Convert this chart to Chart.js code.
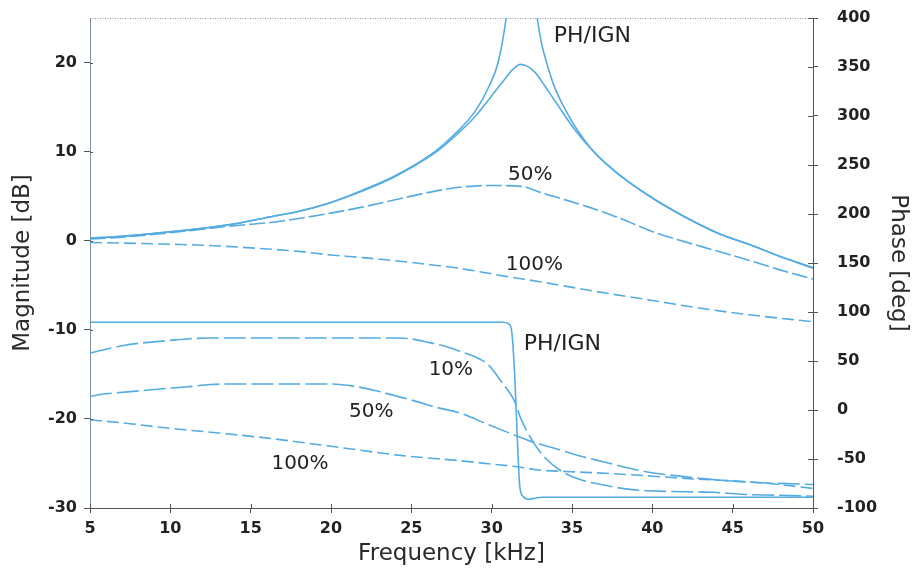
<!DOCTYPE html>
<html>
<head>
<meta charset="utf-8">
<script src="https://cdn.jsdelivr.net/npm/chart.js@4.4.1/dist/chart.umd.min.js"></script>
<style>
  html, body { margin: 0; padding: 0; background: #ffffff; }
  #wrap { width: 915px; height: 572px; }
</style>
</head>
<body>
<div id="wrap"><canvas id="c" width="915" height="572"></canvas></div>
<script>
// ---- tick labels ----
const freqTicks = [5, 10, 15, 20, 25, 30, 35, 40, 45, 50];
const magTicks = [-30, -20, -10, 0, 10, 20];
const phaseTicks = [-100, -50, 0, 50, 100, 150, 200, 250, 300, 350, 400];

// ---- magnitude [dB] (left axis) ----
const magPhIgnF  = [5, 7, 10, 12, 14, 16, 18, 20, 22, 24, 26, 27, 28, 29, 29.8, 30.4, 30.9, 31.3, 31.7, 32.1, 32.5, 32.8, 33.1, 33.5, 33.9, 34.5, 35.2, 36.4, 38, 40, 42, 44, 46, 48, 50];
const magPhIgnDb = [0.3, 0.5, 1.0, 1.4, 1.9, 2.6, 3.3, 4.3, 5.7, 7.3, 9.4, 10.8, 12.5, 14.6, 17.2, 20.0, 25.0, 32, 40, 38, 31, 25.5, 22.2, 19.5, 17.3, 15.0, 12.8, 9.9, 7.3, 4.8, 2.7, 0.9, -0.4, -1.8, -3.0];

const mag10F  = [5, 7, 10, 12, 14, 16, 18, 20, 22, 24, 26, 27, 28, 29, 29.8, 30.8, 31.3, 31.8, 32.2, 32.7, 33.3, 33.9, 35.2, 36.4, 38.1, 40, 41.2, 42, 44.3, 46, 48, 50];
const mag10Db = [0.3, 0.5, 1.0, 1.4, 1.9, 2.6, 3.3, 4.3, 5.6, 7.2, 9.3, 10.6, 12.2, 14.0, 15.8, 18.1, 19.2, 19.8, 19.6, 18.9, 17.4, 15.8, 12.4, 9.9, 7.2, 4.8, 3.5, 2.7, 0.7, -0.4, -1.8, -3.1];

const mag50F  = [5, 7, 10, 12, 14, 16, 18, 20, 22, 24, 26, 28, 30, 31.9, 32.9, 34, 36, 38, 40.2, 42, 44.3, 46, 48, 50];
const mag50Db = [0.2, 0.4, 0.9, 1.3, 1.7, 2.0, 2.5, 3.1, 3.8, 4.6, 5.4, 6.0, 6.2, 6.1, 5.5, 4.9, 3.8, 2.5, 0.9, -0.1, -1.3, -2.2, -3.3, -4.3];

const mag100F  = [5, 8, 10, 12, 15, 18, 20, 22, 24.3, 26.2, 28, 30.9, 33, 36.5, 40, 42.7, 46, 50];
const mag100Db = [-0.2, -0.3, -0.4, -0.5, -0.8, -1.2, -1.6, -1.9, -2.3, -2.7, -3.1, -4.0, -4.6, -5.7, -6.7, -7.5, -8.3, -9.1];

// ---- phase [deg] (right axis) ----
const phPhIgnF   = [5, 30.7, 31.05, 31.25, 31.45, 31.6, 31.75, 31.95, 32.3, 32.7, 33.1, 50];
const phPhIgnDeg = [89.5, 89.5, 88, 80, 30, -30, -78, -88, -91, -90, -89, -89];

const ph10F   = [5, 6, 7, 8, 9, 10, 11, 12.5, 24, 25, 26.2, 27, 28, 29, 29.8, 30.6, 31.45, 31.8, 32.6, 33.4, 34.4, 35.5, 36.5, 38.6, 40.7, 43.8, 45.5, 48, 50];
const ph10Deg = [58, 62, 65.5, 68, 69.5, 71, 72.5, 73.5, 73.5, 72.5, 68.5, 65.5, 60, 54, 46, 29, 8, -8, -33, -50, -63, -71, -75, -81, -83, -84, -86, -87, -88];

const ph50F   = [5, 6, 7.7, 9.8, 11, 12.5, 13.5, 20, 21.5, 22.8, 24, 25.3, 26.5, 28, 29.8, 31.65, 32.6, 33.9, 35.5, 37, 39.6, 42, 45.3, 50];
const ph50Deg = [14, 16.5, 19, 22, 23.5, 26, 26.5, 26.5, 24, 19.7, 14.5, 8.8, 3, -3, -15, -27, -33, -39, -47, -53, -63, -68, -73, -76];

const ph100F   = [5, 7.5, 9.8, 13, 16, 20, 24.3, 28, 29.3, 31.9, 32.8, 35, 37.6, 41.7, 46.9, 50];
const ph100Deg = [-10, -14, -18.4, -23.5, -28.6, -37, -46.3, -51.7, -54, -58.6, -61, -63, -65, -69.4, -74.5, -80];

// ---- curve labels (frequency kHz, magnitude-axis dB) ----
const labelTexts = ['PH/IGN', '50%', '100%', 'PH/IGN', '10%', '50%', '100%'];
const labelFreqs = [36.27, 32.4, 32.66, 34.4, 27.46, 22.5, 18.07];
const labelDb    = [22.9, 7.35, -2.7, -11.67, -14.5, -19.2, -25.0];

const pts = (xs, ys) => xs.map((x, i) => ({ x: x, y: ys[i] }));
const BLUE = '#55ace2';
const FONT = "'DejaVu Sans', sans-serif";

const labelPlugin = {
  id: 'curveLabels',
  afterDatasetsDraw(chart) {
    const { ctx, chartArea, scales } = chart;
    ctx.save();
    // top frame line
    ctx.strokeStyle = '#8a97a3';
    ctx.lineWidth = 1;
    ctx.setLineDash([1, 1.5]);
    ctx.beginPath();
    ctx.moveTo(chartArea.left, chartArea.top + 0.5);
    ctx.lineTo(chartArea.right, chartArea.top + 0.5);
    ctx.stroke();
    ctx.setLineDash([]);
    // inner tick marks
    ctx.strokeStyle = '#555';
    ctx.beginPath();
    scales.x.ticks.forEach(t => {
      const px = Math.round(scales.x.getPixelForValue(t.value)) + 0.5;
      ctx.moveTo(px, chartArea.bottom);
      ctx.lineTo(px, chartArea.bottom - 4);
    });
    scales.y.ticks.forEach(t => {
      const py = Math.round(scales.y.getPixelForValue(t.value)) + 0.5;
      ctx.moveTo(chartArea.left, py);
      ctx.lineTo(chartArea.left + 3, py);
    });
    scales.y1.ticks.forEach(t => {
      const py = Math.round(scales.y1.getPixelForValue(t.value)) + 0.5;
      ctx.moveTo(chartArea.right, py);
      ctx.lineTo(chartArea.right - 5, py);
    });
    ctx.stroke();
    // labels
    ctx.fillStyle = '#222';
    ctx.textAlign = 'center';
    ctx.textBaseline = 'middle';
    labelTexts.forEach((txt, i) => {
      ctx.font = (txt === 'PH/IGN' ? '22px ' : '20px ') + FONT;
      ctx.fillText(txt, scales.x.getPixelForValue(labelFreqs[i]), scales.y.getPixelForValue(labelDb[i]));
    });
    ctx.restore();
  }
};

const tickFont = { family: FONT, size: 16, weight: 'bold' };
const titleFont = { family: FONT, size: 23 };

new Chart(document.getElementById('c'), {
  type: 'line',
  data: {
    datasets: [
      { data: pts(magPhIgnF, magPhIgnDb), yAxisID: 'y', borderDash: [] },
      { data: pts(mag10F, mag10Db), yAxisID: 'y', borderDash: [] },
      { data: pts(mag50F, mag50Db), yAxisID: 'y', borderDash: [16, 4] },
      { data: pts(mag100F, mag100Db), yAxisID: 'y', borderDash: [12, 5] },
      { data: pts(phPhIgnF, phPhIgnDeg), yAxisID: 'y1', borderDash: [] },
      { data: pts(ph10F, ph10Deg), yAxisID: 'y1', borderDash: [22, 5] },
      { data: pts(ph50F, ph50Deg), yAxisID: 'y1', borderDash: [22, 5] },
      { data: pts(ph100F, ph100Deg), yAxisID: 'y1', borderDash: [12, 5] }
    ].map(d => Object.assign({
      borderColor: BLUE,
      borderWidth: 1.6,
      pointRadius: 0,
      fill: false,
      cubicInterpolationMode: 'monotone'
    }, d))
  },
  options: {
    responsive: false,
    animation: false,
    devicePixelRatio: 1,
    layout: { padding: { top: 18, left: 0, right: 0, bottom: 0 } },
    plugins: { legend: { display: false }, tooltip: { enabled: false } },
    scales: {
      x: {
        type: 'linear', position: 'bottom', min: 5, max: 50,
        afterBuildTicks: s => { s.ticks = freqTicks.map(v => ({ value: v })); },
        afterFit: s => { s.height = 64; },
        ticks: { font: tickFont, color: '#222', padding: 6, maxRotation: 0 },
        grid: { drawOnChartArea: false, drawTicks: true, tickLength: 5, color: '#555' },
        border: { display: true, color: '#555', width: 1 },
        title: { display: true, text: 'Frequency [kHz]', font: titleFont, color: '#2a2a2a', padding: { top: 0, bottom: 4 } }
      },
      y: {
        type: 'linear', position: 'left', min: -30, max: 25,
        afterBuildTicks: s => { s.ticks = magTicks.map(v => ({ value: v })); },
        afterFit: s => { s.width = 90; s.paddingTop = 0; s.paddingBottom = 0; },
        ticks: { font: tickFont, color: '#222', padding: 7 },
        grid: { drawOnChartArea: false, drawTicks: true, tickLength: 6, color: '#555' },
        border: { display: true, color: '#7d8fa0', width: 1, dash: [1, 1.5] },
        title: { display: true, text: 'Magnitude [dB]', font: titleFont, color: '#2a2a2a', padding: { top: 9, bottom: 0 } }
      },
      y1: {
        type: 'linear', position: 'right', min: -100, max: 400,
        afterBuildTicks: s => { s.ticks = phaseTicks.map(v => ({ value: v })); },
        afterFit: s => { s.width = 102; s.paddingTop = 0; s.paddingBottom = 0; },
        ticks: { font: tickFont, color: '#222', padding: 19 },
        grid: { drawOnChartArea: false, drawTicks: true, tickLength: 5, color: '#555' },
        border: { display: true, color: '#555', width: 1 },
        title: { display: true, text: 'Phase [deg]', font: titleFont, color: '#2a2a2a', padding: { top: 3, bottom: 0 } }
      }
    }
  },
  plugins: [labelPlugin]
});
</script>
</body>
</html>
